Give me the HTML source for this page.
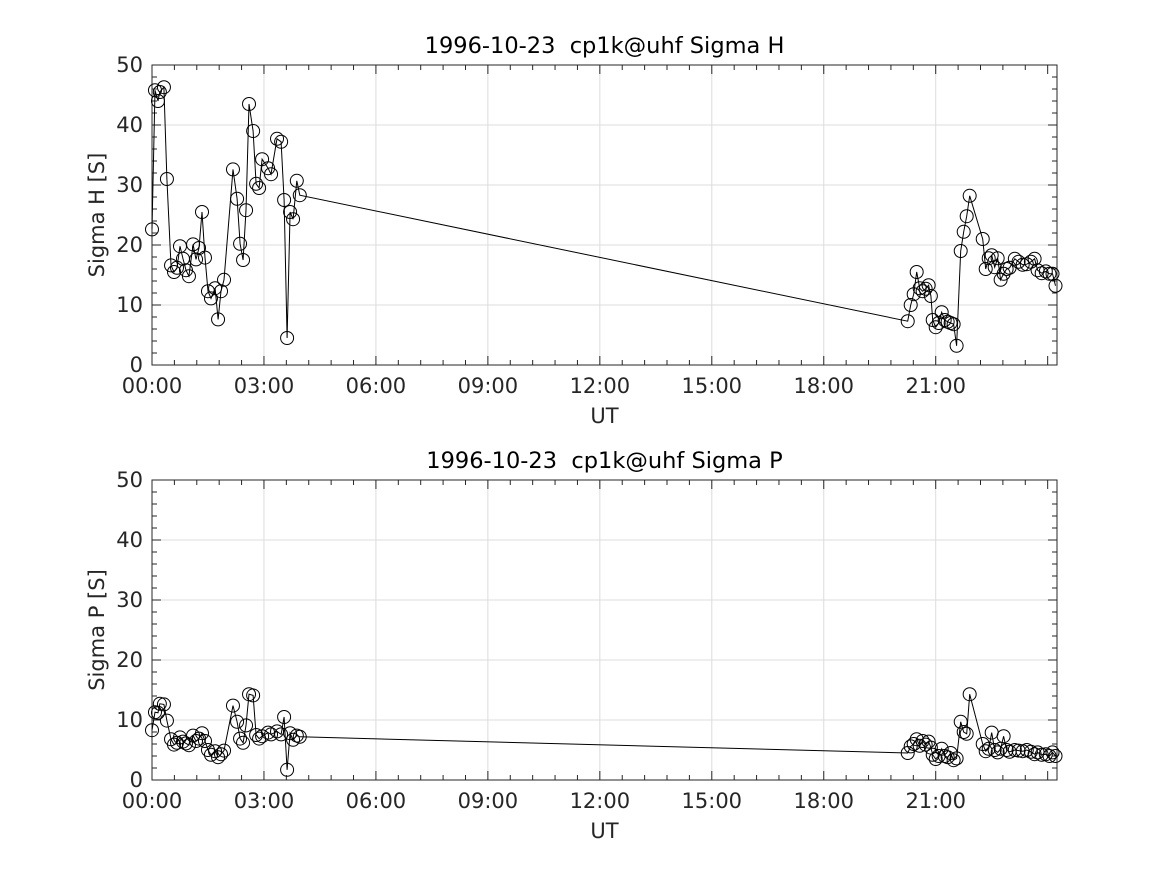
<!DOCTYPE html>
<html><head><meta charset="utf-8"><style>
body{margin:0;background:#fff;}
svg text{font-family:"DejaVu Sans","Liberation Sans",sans-serif;fill:#262626;white-space:pre;}
</style></head><body>
<svg id="chart" width="1167" height="875"></svg>
<script>
const times=[0,.08,.16,.21,.32,.40,.51,.59,.67,.75,.83,.91,.99,1.10,1.18,1.26,1.34,1.42,1.50,1.58,1.69,1.77,1.85,1.93,2.17,2.28,2.36,2.44,2.52,2.60,2.71,2.79,2.87,2.95,3.11,3.19,3.35,3.46,3.54,3.62,3.70,3.78,3.88,3.96,
20.25,20.33,20.41,20.49,20.57,20.65,20.73,20.81,20.87,20.92,21.0,21.08,21.16,21.24,21.32,21.40,21.48,21.56,21.67,21.75,21.83,21.91,22.26,22.34,22.42,22.50,22.58,22.66,22.74,22.82,22.90,22.98,23.12,23.22,23.33,23.44,23.55,23.65,23.73,23.84,23.95,24.05,24.13,24.21];
const sigmaH=[22.6,45.8,44,45.5,46.3,31,16.6,15.5,16.2,19.8,17.7,15.8,14.8,20.1,17.6,19.5,25.5,17.9,12.3,11.1,12.8,7.6,12.3,14.2,32.6,27.7,20.2,17.5,25.8,43.5,39,30.2,29.5,34.3,32.8,31.8,37.7,37.2,27.5,4.5,25.5,24.3,30.7,28.3,
7.3,10,11.8,15.5,12.8,12.3,12.7,13.3,11.5,7.5,6.3,7,8.8,7.5,7.2,7,6.8,3.2,19,22.2,24.8,28.2,21,16,17.8,18.3,16.3,17.8,14.2,15.2,16,16.2,17.7,17.2,16.7,16.8,17.2,17.7,15.8,15.3,15.6,15.2,15.2,13.2];
const sigmaP=[8.3,11.3,11.2,12.7,12.6,9.9,6.8,5.9,6.2,7.1,6.4,6.1,5.8,7.4,6.5,6.9,7.8,6.5,5.0,4.2,4.8,3.8,4.3,4.9,12.4,9.7,6.9,6.2,9.1,14.3,14.1,7.5,6.9,7.3,7.9,7.6,8.1,7.6,10.5,1.7,7.8,6.7,7.4,7.2,
4.5,5.6,6.0,6.8,5.7,6.5,5.9,6.4,5.4,4.2,3.5,4.0,5.2,4.0,3.8,4.5,3.3,3.6,9.7,8.0,7.7,14.3,6.0,4.8,5.2,7.9,5.0,4.6,5.2,7.3,5.0,4.7,5.0,4.9,4.8,5.0,4.7,4.3,4.6,4.2,4.3,4.0,4.6,4.0];
const xTickLabels=["00:00","03:00","06:00","09:00","12:00","15:00","18:00","21:00"];
const xTickHours=[0,3,6,9,12,15,18,21];
const yTicks=[0,10,20,30,40,50];
const NS="http://www.w3.org/2000/svg";
const svg=document.getElementById('chart');
function mk(tag,attrs,parent){const e=document.createElementNS(NS,tag);for(const k in attrs)e.setAttribute(k,attrs[k]);(parent||svg).appendChild(e);return e;}
function panel(top,vals,title,ylab,key){
  const L=152,R=1057,T=top,B=top+300,xmax=24.25,ymax=50;
  const xs=t=>L+(R-L)*t/xmax, ys=v=>B-(B-T)*v/ymax;
  const g=mk('g',{});
  
  
  mk('rect',{x:L,y:T,width:R-L,height:B-T,fill:'#fff'},g);
  xTickHours.forEach((h,i)=>{const x=xs(h);
    if(h>0)mk('line',{x1:x,y1:T,x2:x,y2:B,stroke:'#dcdcdc','stroke-width':1},g);
    const t=mk('text',{x:x,y:B+28,'text-anchor':'middle','font-size':21},g);t.textContent=xTickLabels[i];
    
  });
  yTicks.forEach(v=>{const y=ys(v);
    if(v>0&&v<50)mk('line',{x1:L,y1:y,x2:R,y2:y,stroke:'#dcdcdc','stroke-width':1},g);
    const t=mk('text',{x:L-9,y:y+7,'text-anchor':'end','font-size':21},g);t.textContent=v;
    
  });
  for(let h=0;h<=xmax;h+=0.6){const x=xs(h);const len=(Math.abs(h/3-Math.round(h/3))<0.01)?9:5;
    mk('line',{x1:x,y1:B,x2:x,y2:B-len,stroke:'#262626'},g);mk('line',{x1:x,y1:T,x2:x,y2:T+len,stroke:'#262626'},g);}
  for(let v=0;v<=50;v+=2){const y=ys(v);const len=v%10===0?9:5;
    mk('line',{x1:L,y1:y,x2:L+len,y2:y,stroke:'#262626'},g);mk('line',{x1:R,y1:y,x2:R-len,y2:y,stroke:'#262626'},g);}
  mk('rect',{x:L,y:T,width:R-L,height:B-T,fill:'none',stroke:'#262626','stroke-width':1},g);
  const pts=times.map((t,i)=>xs(t).toFixed(1)+','+ys(vals[i]).toFixed(1)).join(' ');
  const pl=mk('polyline',{points:pts,fill:'none',stroke:'#000','stroke-width':1},g);
  
  times.forEach((t,i)=>{const c=mk('circle',{cx:xs(t),cy:ys(vals[i]),r:6.5,fill:'none',stroke:'#000','stroke-width':1},g);
    });
  const tt=mk('text',{x:(L+R)/2,y:T-12,'text-anchor':'middle','font-size':22.5,style:'fill:#000'},g);tt.textContent=title;
  
  const xl=mk('text',{x:(L+R)/2,y:B+58,'text-anchor':'middle','font-size':21},g);xl.textContent='UT';
  
  const yl=mk('text',{x:0,y:0,'text-anchor':'middle','font-size':21,transform:`translate(104,${(T+B)/2}) rotate(-90)`},g);yl.textContent=ylab;
  
}
panel(65,sigmaH,'1996-10-23  cp1k@uhf Sigma H','Sigma H [S]','sigma-h');
panel(480,sigmaP,'1996-10-23  cp1k@uhf Sigma P','Sigma P [S]','sigma-p');
</script>
</body></html>
